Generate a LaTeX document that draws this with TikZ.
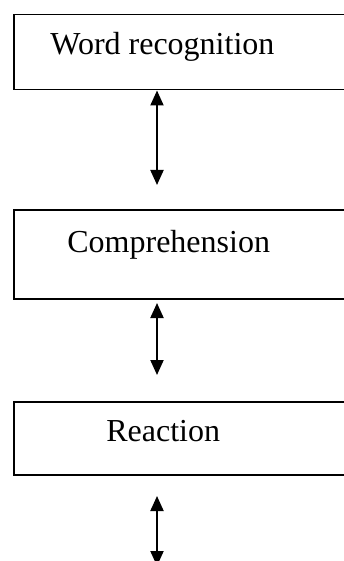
\documentclass[tikz,border=0pt]{standalone}
\usepackage{fontspec}
\setmainfont{Liberation Serif}
\usetikzlibrary{arrows.meta}

\tikzset{every picture/.style={line width=0.75pt}}
\tikzset{
  blockbox/.style={draw, rectangle, line width=1.5pt, inner sep=0pt, anchor=north west, minimum width=360pt},
  blocktext/.style={anchor=base west, inner sep=0pt, font=\fontsize{32}{38}\selectfont},
  dblarrow/.style={line width=2pt, {Triangle[length=15pt,width=13pt]}-{Triangle[length=15pt,width=13pt]}}
}

\begin{document}
\begin{tikzpicture}[x=1pt,y=1pt,yscale=-1]
	\useasboundingbox (0,0) rectangle (344,561);
	\clip (0,0) rectangle (344,561);
	
	%Shape: Rectangle
	\node [blockbox, minimum height=75pt] (wordbox) at (13,14) {};
	%Shape: Rectangle
	\node [blockbox, minimum height=89pt] (compbox) at (13,209) {};
	%Shape: Rectangle
	\node [blockbox, minimum height=73pt] (reactbox) at (13,401) {};
	
	%Straight Lines
	\coordinate (wordend) at (157,185);
	\draw [dblarrow] (wordend |- wordbox.south) -- (wordend);
	%Straight Lines
	\coordinate (comptop) at (157,303);
	\coordinate (compend) at (157,375);
	\draw [dblarrow] (comptop) -- (compend);
	%Straight Lines
	\coordinate (reacttop) at (157,496);
	\coordinate (reactend) at (157,566);
	\draw [dblarrow] (reacttop) -- (reactend);
	
	% Text Node
	\node [blocktext] (wordtxt) at (50,55) {Word recognition};
	% Text Node
	\node [blocktext] (comptxt) at (67,252) {Comprehension};
	% Text Node
	\node [blocktext] (reacttxt) at (106,441) {Reaction};
	
\end{tikzpicture}
\end{document}
